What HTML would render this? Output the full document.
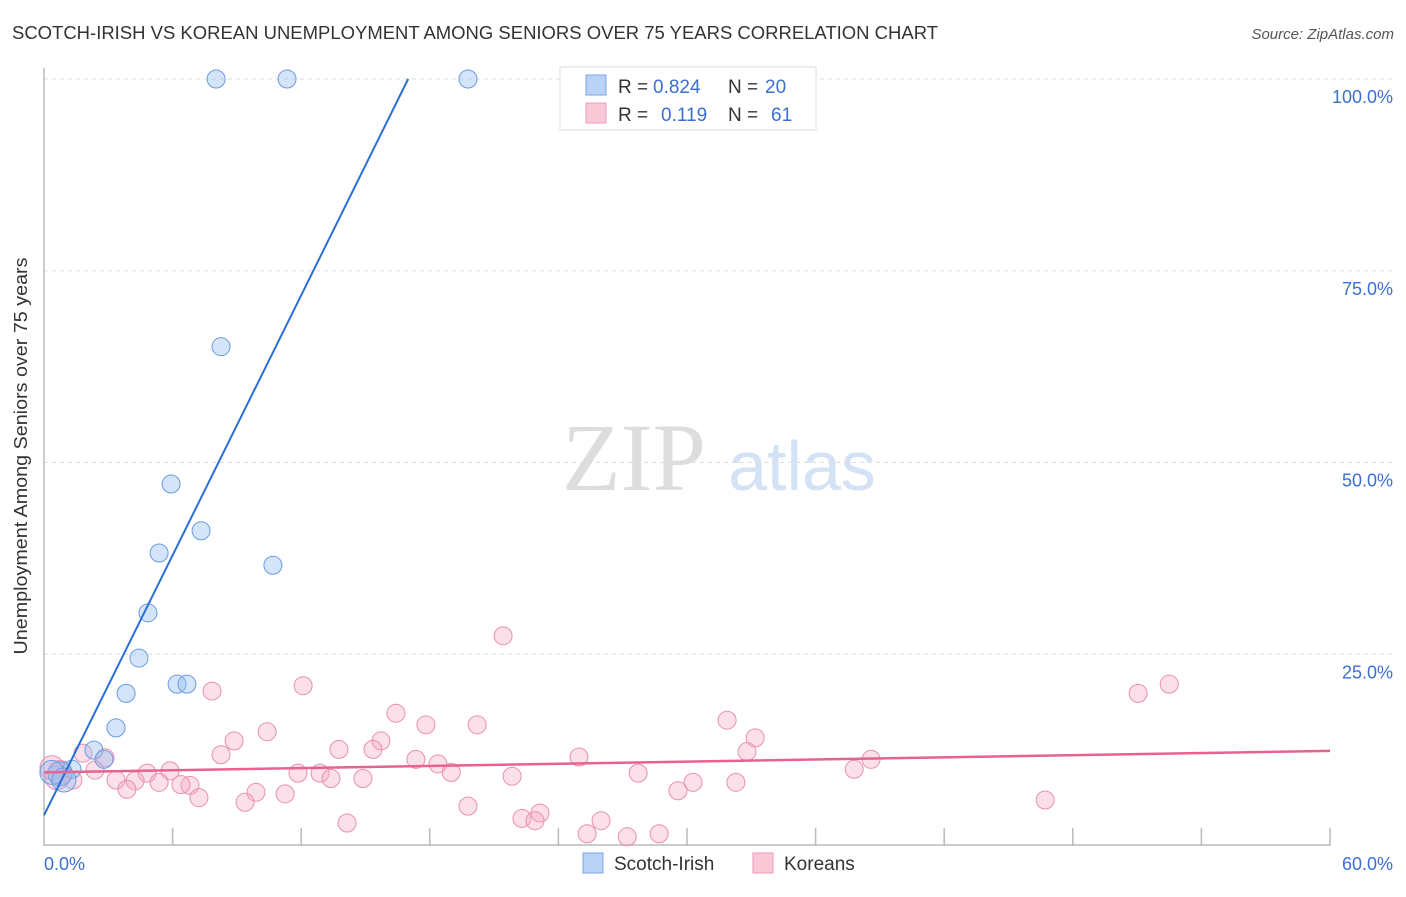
<!DOCTYPE html>
<html><head><meta charset="utf-8"><style>
body{margin:0;background:#fff;font-family:"Liberation Sans",sans-serif}
svg text{font-family:"Liberation Sans",sans-serif}
</style></head><body>
<svg width="1406" height="892" xmlns="http://www.w3.org/2000/svg">
<text x="12" y="39" font-size="18" fill="#333" textLength="926" lengthAdjust="spacingAndGlyphs">SCOTCH-IRISH VS KOREAN UNEMPLOYMENT AMONG SENIORS OVER 75 YEARS CORRELATION CHART</text>
<text x="1394" y="39" font-size="15" fill="#555" text-anchor="end" font-style="italic">Source: ZipAtlas.com</text>
<text x="634" y="490" font-size="96" fill="#ddd" text-anchor="middle" font-family="Liberation Serif" style="font-family:'Liberation Serif',serif">ZIP</text>
<text x="802" y="490" font-size="70" fill="#d3e2f5" text-anchor="middle">atlas</text>
<g id="grid"></g>
<g id="axes"></g>
<g id="pts"></g>
<g id="lines"></g>
<text x="27" y="456" font-size="18" fill="#333" text-anchor="middle" textLength="397" lengthAdjust="spacingAndGlyphs" transform="rotate(-90 27 456)">Unemployment Among Seniors over 75 years</text>
<text x="44" y="870" font-size="18" fill="#3b6fd4">0.0%</text>
<text x="1393" y="870" font-size="18" fill="#3b6fd4" text-anchor="end">60.0%</text>
<g>
<rect x="560" y="67" width="256" height="63" fill="#fff" stroke="#ddd"/>
<rect x="586" y="75" width="20" height="20" fill="#b9d3f7" stroke="#7aa6e6"/>
<rect x="586" y="103" width="20" height="20" fill="#fac9d8" stroke="#ec9ab6"/>
<text x="618" y="93" font-size="19" fill="#333">R = <tspan x="653" fill="#3b6fd4">0.824</tspan><tspan x="728">N = </tspan><tspan x="765" fill="#3b6fd4">20</tspan></text>
<text x="618" y="121" font-size="19" fill="#333">R = <tspan x="661" fill="#3b6fd4">0.119</tspan><tspan x="728">N = </tspan><tspan x="771" fill="#3b6fd4">61</tspan></text>
</g>
<g>
<rect x="583" y="853" width="20" height="20" fill="#b9d3f7" stroke="#7aa6e6"/>
<text x="614" y="870" font-size="19" fill="#333">Scotch-Irish</text>
<rect x="753" y="853" width="20" height="20" fill="#fac9d8" stroke="#ec9ab6"/>
<text x="784" y="870" font-size="19" fill="#333">Koreans</text>
</g>
</svg>
<script>
const blueX=[8.03,11.34,19.78,8.26,5.93,7.33,5.37,10.68,4.85,4.43,3.83,6.21,6.67,3.36,2.33,2.8,1.31,0.75,0.37,0.93];
const blueY=[100,100,100,65.1,47.2,41.1,38.2,36.6,30.4,24.5,19.9,21.1,21.1,15.4,12.5,11.3,10.0,9.4,9.6,8.6];
const pinkX=[21.42,12.09,7.84,51.05,52.5,16.42,17.82,20.21,31.87,10.41,8.87,15.72,33.18,13.76,15.35,8.26,32.8,24.96,17.35,38.59,2.85,1.82,18.38,37.8,5.88,4.81,11.85,12.88,19.0,27.72,21.84,2.38,4.25,3.36,5.37,6.81,6.39,14.88,30.28,32.28,13.39,29.58,9.89,11.25,3.87,7.23,9.38,46.71,19.78,23.14,22.3,22.91,14.14,25.99,25.34,27.21,28.7,1.35,0.75,0.37,0.61];
const pinkY=[27.4,20.9,20.2,19.9,21.1,17.3,15.8,15.8,16.4,14.9,13.7,13.7,14.1,12.6,12.6,11.9,12.3,11.6,11.3,11.3,11.5,12.1,10.7,10.0,9.8,9.5,9.5,9.5,9.6,9.5,9.1,9.9,8.5,8.6,8.3,7.9,8.0,8.8,8.3,8.3,8.8,7.2,7.0,6.8,7.4,6.3,5.7,6.0,5.2,4.3,3.6,3.3,3.0,3.3,1.6,1.2,1.6,8.6,9.6,10.2,8.9];
const yTicks=[25,50,75,100];
const yTickLabels=["25.0%","50.0%","75.0%","100.0%"];
const xTicks=[0,6,12,18,24,30,36,42,48,54,60];
const blueLine=[[0,4.0],[16.99,100]];
const pinkLine=[[0,9.6],[60,12.4]];
const L=44,R=1330,T=79,B=846;
const sx=v=>L+v/60*(R-L), sy=v=>B-v/100*(B-T);
const NS="http://www.w3.org/2000/svg";
function mk(tag,attrs,parent){const e=document.createElementNS(NS,tag);for(const k in attrs)e.setAttribute(k,attrs[k]);parent.appendChild(e);return e;}
const grid=document.getElementById('grid'),axes=document.getElementById('axes'),pts=document.getElementById('pts'),lines=document.getElementById('lines');
yTicks.forEach((t,i)=>{
 const g=mk('line',{x1:L,x2:1393,y1:sy(t),y2:sy(t),stroke:'#ddd','stroke-dasharray':'4,4'},grid);
 
 
 const tx=mk('text',{x:1393,y:sy(t)+24,'font-size':18,fill:'#3b6fd4','text-anchor':'end'},grid);
 tx.textContent=yTickLabels[i];
 
 
});
const ya=mk('line',{x1:L,x2:L,y1:68,y2:B,stroke:'#bbb','stroke-width':1.5},axes);


const xa=mk('line',{x1:L,x2:R,y1:B-1,y2:B-1,stroke:'#bbb','stroke-width':1.5},axes);


xTicks.forEach(t=>{if(t===0)return;
 const tk=mk('line',{x1:sx(t),x2:sx(t),y1:828,y2:B,stroke:'#bbb','stroke-width':1.5},axes);
 
 
});
pinkX.forEach((x,i)=>{
 const c=mk('circle',{cx:sx(x),cy:sy(pinkY[i]),r:(i>=58?12:9),fill:'rgba(245,170,198,0.38)',stroke:'#e98fb0','stroke-width':1},pts);
 
 
});
blueX.forEach((x,i)=>{
 const c=mk('circle',{cx:sx(x),cy:sy(blueY[i]),r:(i>=17?12:9),fill:'rgba(150,190,240,0.4)',stroke:'#6a9be0','stroke-width':1},pts);
 
 
});
const bl=mk('line',{x1:sx(blueLine[0][0]),y1:sy(blueLine[0][1]),x2:sx(blueLine[1][0]),y2:sy(blueLine[1][1]),stroke:'#2a6fd6','stroke-width':2},lines);


const pl=mk('line',{x1:sx(pinkLine[0][0]),y1:sy(pinkLine[0][1]),x2:sx(pinkLine[1][0]),y2:sy(pinkLine[1][1]),stroke:'#e8628f','stroke-width':2.5},lines);


</script>
</body></html>
